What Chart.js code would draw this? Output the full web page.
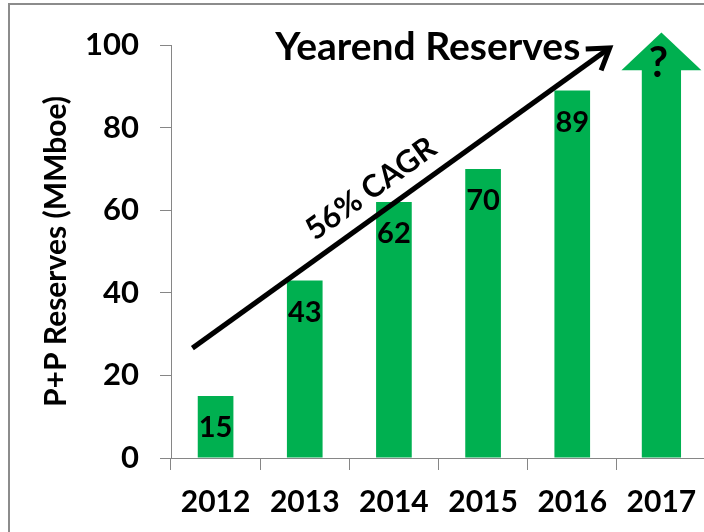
<!DOCTYPE html>
<html>
<head>
<meta charset="utf-8">
<script src="https://cdn.jsdelivr.net/npm/chart.js@4.4.1/dist/chart.umd.min.js"></script>
<style>
  html, body { margin: 0; padding: 0; background: #fff; }
  #wrap { position: relative; width: 704px; height: 532px; overflow: hidden; }
  #frame { position: absolute; left: 8px; top: 3px; width: 720px; height: 560px;
           border-top: 2px solid #8c8c8c; border-left: 2px solid #8c8c8c; }
  #chart { position: absolute; left: 0; top: 0; }
</style>
</head>
<body>
<div id="wrap">
  <div id="frame"></div>
  <canvas id="chart" width="712" height="532"></canvas>
</div>
<script>
const years = ['2012', '2013', '2014', '2015', '2016', '2017'];
const reserves = [15, 43, 62, 70, 89, null];
// 2017 is shown as an open-ended arrow: shaft top and head tip (MMboe)
const outlookShaft = [null, null, null, null, null, 94];
const outlookTip = 103;
const outlookMark = 95.6;
const yMin = 0;
const yMax = 100;
const yStep = 20;
// trend arrow endpoints as [category index, value]
const trendFrom = [-0.26, 26.6];
const trendTo = [4.42, 99.3];
const headlinePos = [2.38, 99.5];

const GREEN = '#00B050';
const AXIS = '#868686';
const FONT = 'Lato';

function fitFont(ctx, text, width, weight) {
  let size = 40;
  ctx.font = weight + ' ' + size + 'px ' + FONT;
  const w = ctx.measureText(text).width;
  return Math.round(size * width / w * 10) / 10;
}

const annotations = {
  id: 'annotations',
  afterDatasetsDraw(chart) {
    const ctx = chart.ctx;
    const x = chart.scales.x;
    const y = chart.scales.y;
    ctx.save();

    // value labels inside the bars
    ctx.fillStyle = '#000';
    ctx.font = 'bold 29px ' + FONT;
    ctx.textAlign = 'center';
    ctx.textBaseline = 'middle';
    chart.getDatasetMeta(0).data.forEach(function (bar, i) {
      if (reserves[i] == null) return;
      ctx.fillText(String(reserves[i]), bar.x, bar.y + 32);
    });

    // 2017 arrow head
    const shaft = chart.getDatasetMeta(1).data[5];
    const baseY = y.getPixelForValue(outlookShaft[5]);
    const tipY = y.getPixelForValue(outlookTip);
    ctx.fillStyle = GREEN;
    ctx.beginPath();
    ctx.moveTo(shaft.x - 40, baseY + 0.5);
    ctx.lineTo(shaft.x, tipY);
    ctx.lineTo(shaft.x + 40, baseY + 0.5);
    ctx.closePath();
    ctx.fill();
    ctx.fillStyle = '#000';
    ctx.font = 'bold 42px ' + FONT;
    ctx.fillText('?', shaft.x - 3, y.getPixelForValue(outlookMark));

    // trend arrow
    const x0 = x.getPixelForValue(trendFrom[0]);
    const y0 = y.getPixelForValue(trendFrom[1]);
    const x1 = x.getPixelForValue(trendTo[0]);
    const y1 = y.getPixelForValue(trendTo[1]);
    const ang = Math.atan2(y1 - y0, x1 - x0);
    ctx.strokeStyle = '#000';
    ctx.lineWidth = 5;
    ctx.lineCap = 'butt';
    ctx.lineJoin = 'miter';
    ctx.beginPath();
    ctx.moveTo(x0, y0);
    ctx.lineTo(x1 - 3 * Math.cos(ang), y1 - 3 * Math.sin(ang));
    ctx.stroke();
    const arm = 24;
    const spread = 0.58;
    ctx.beginPath();
    ctx.moveTo(x1 - arm * Math.cos(ang - spread), y1 - arm * Math.sin(ang - spread));
    ctx.lineTo(x1, y1);
    ctx.lineTo(x1 - arm * Math.cos(ang + spread), y1 - arm * Math.sin(ang + spread));
    ctx.stroke();

    // CAGR label along the arrow
    const t = 0.463;
    const px = x0 + (x1 - x0) * t + 25 * Math.sin(ang);
    const py = y0 + (y1 - y0) * t - 25 * Math.cos(ang);
    ctx.save();
    ctx.translate(px, py);
    ctx.rotate(ang);
    ctx.font = 'bold ' + fitFont(ctx, '56% CAGR', 152, 'bold') + 'px ' + FONT;
    ctx.fillText('56% CAGR', 0, 0);
    ctx.restore();

    // headline
    ctx.font = 'bold ' + fitFont(ctx, 'Yearend Reserves', 305, 'bold') + 'px ' + FONT;
    ctx.fillText('Yearend Reserves', x.getPixelForValue(headlinePos[0]), y.getPixelForValue(headlinePos[1]));

    ctx.restore();
  }
};

new Chart(document.getElementById('chart'), {
  type: 'bar',
  data: {
    labels: years,
    datasets: [
      {
        label: 'Reserves',
        data: reserves,
        backgroundColor: GREEN,
        barPercentage: 0.4,
        categoryPercentage: 1,
        grouped: false,
      },
      {
        label: 'Outlook',
        data: outlookShaft,
        backgroundColor: GREEN,
        barPercentage: 0.44,
        categoryPercentage: 1,
        grouped: false,
      },
    ],
  },
  options: {
    responsive: false,
    animation: false,
    devicePixelRatio: 1,
    layout: { padding: { left: 0, top: 45, right: 6, bottom: 0 } },
    plugins: {
      legend: { display: false },
      tooltip: { enabled: false },
    },
    scales: {
      x: {
        grid: { drawOnChartArea: false, color: AXIS, tickLength: 12, offset: true },
        border: { color: AXIS, width: 1 },
        ticks: { color: '#000', font: { family: FONT, size: 30, weight: 'bold' }, padding: 14, maxRotation: 0 },
        afterFit: function (scale) { scale.height = 74; },
      },
      y: {
        min: yMin,
        max: yMax,
        ticks: { stepSize: yStep, color: '#000', font: { family: FONT, size: 31, weight: 'bold' }, padding: 21 },
        grid: { drawOnChartArea: false, color: AXIS, tickLength: 11 },
        border: { color: AXIS, width: 1 },
        title: {
          display: true,
          text: 'P+P Reserves (MMboe)',
          color: '#000',
          font: { family: FONT, size: 30, weight: 'bold' },
          padding: { top: 38, bottom: 0 },
        },
        afterFit: function (scale) { scale.width = 171; },
      },
    },
  },
  plugins: [annotations],
});
</script>
</body>
</html>
